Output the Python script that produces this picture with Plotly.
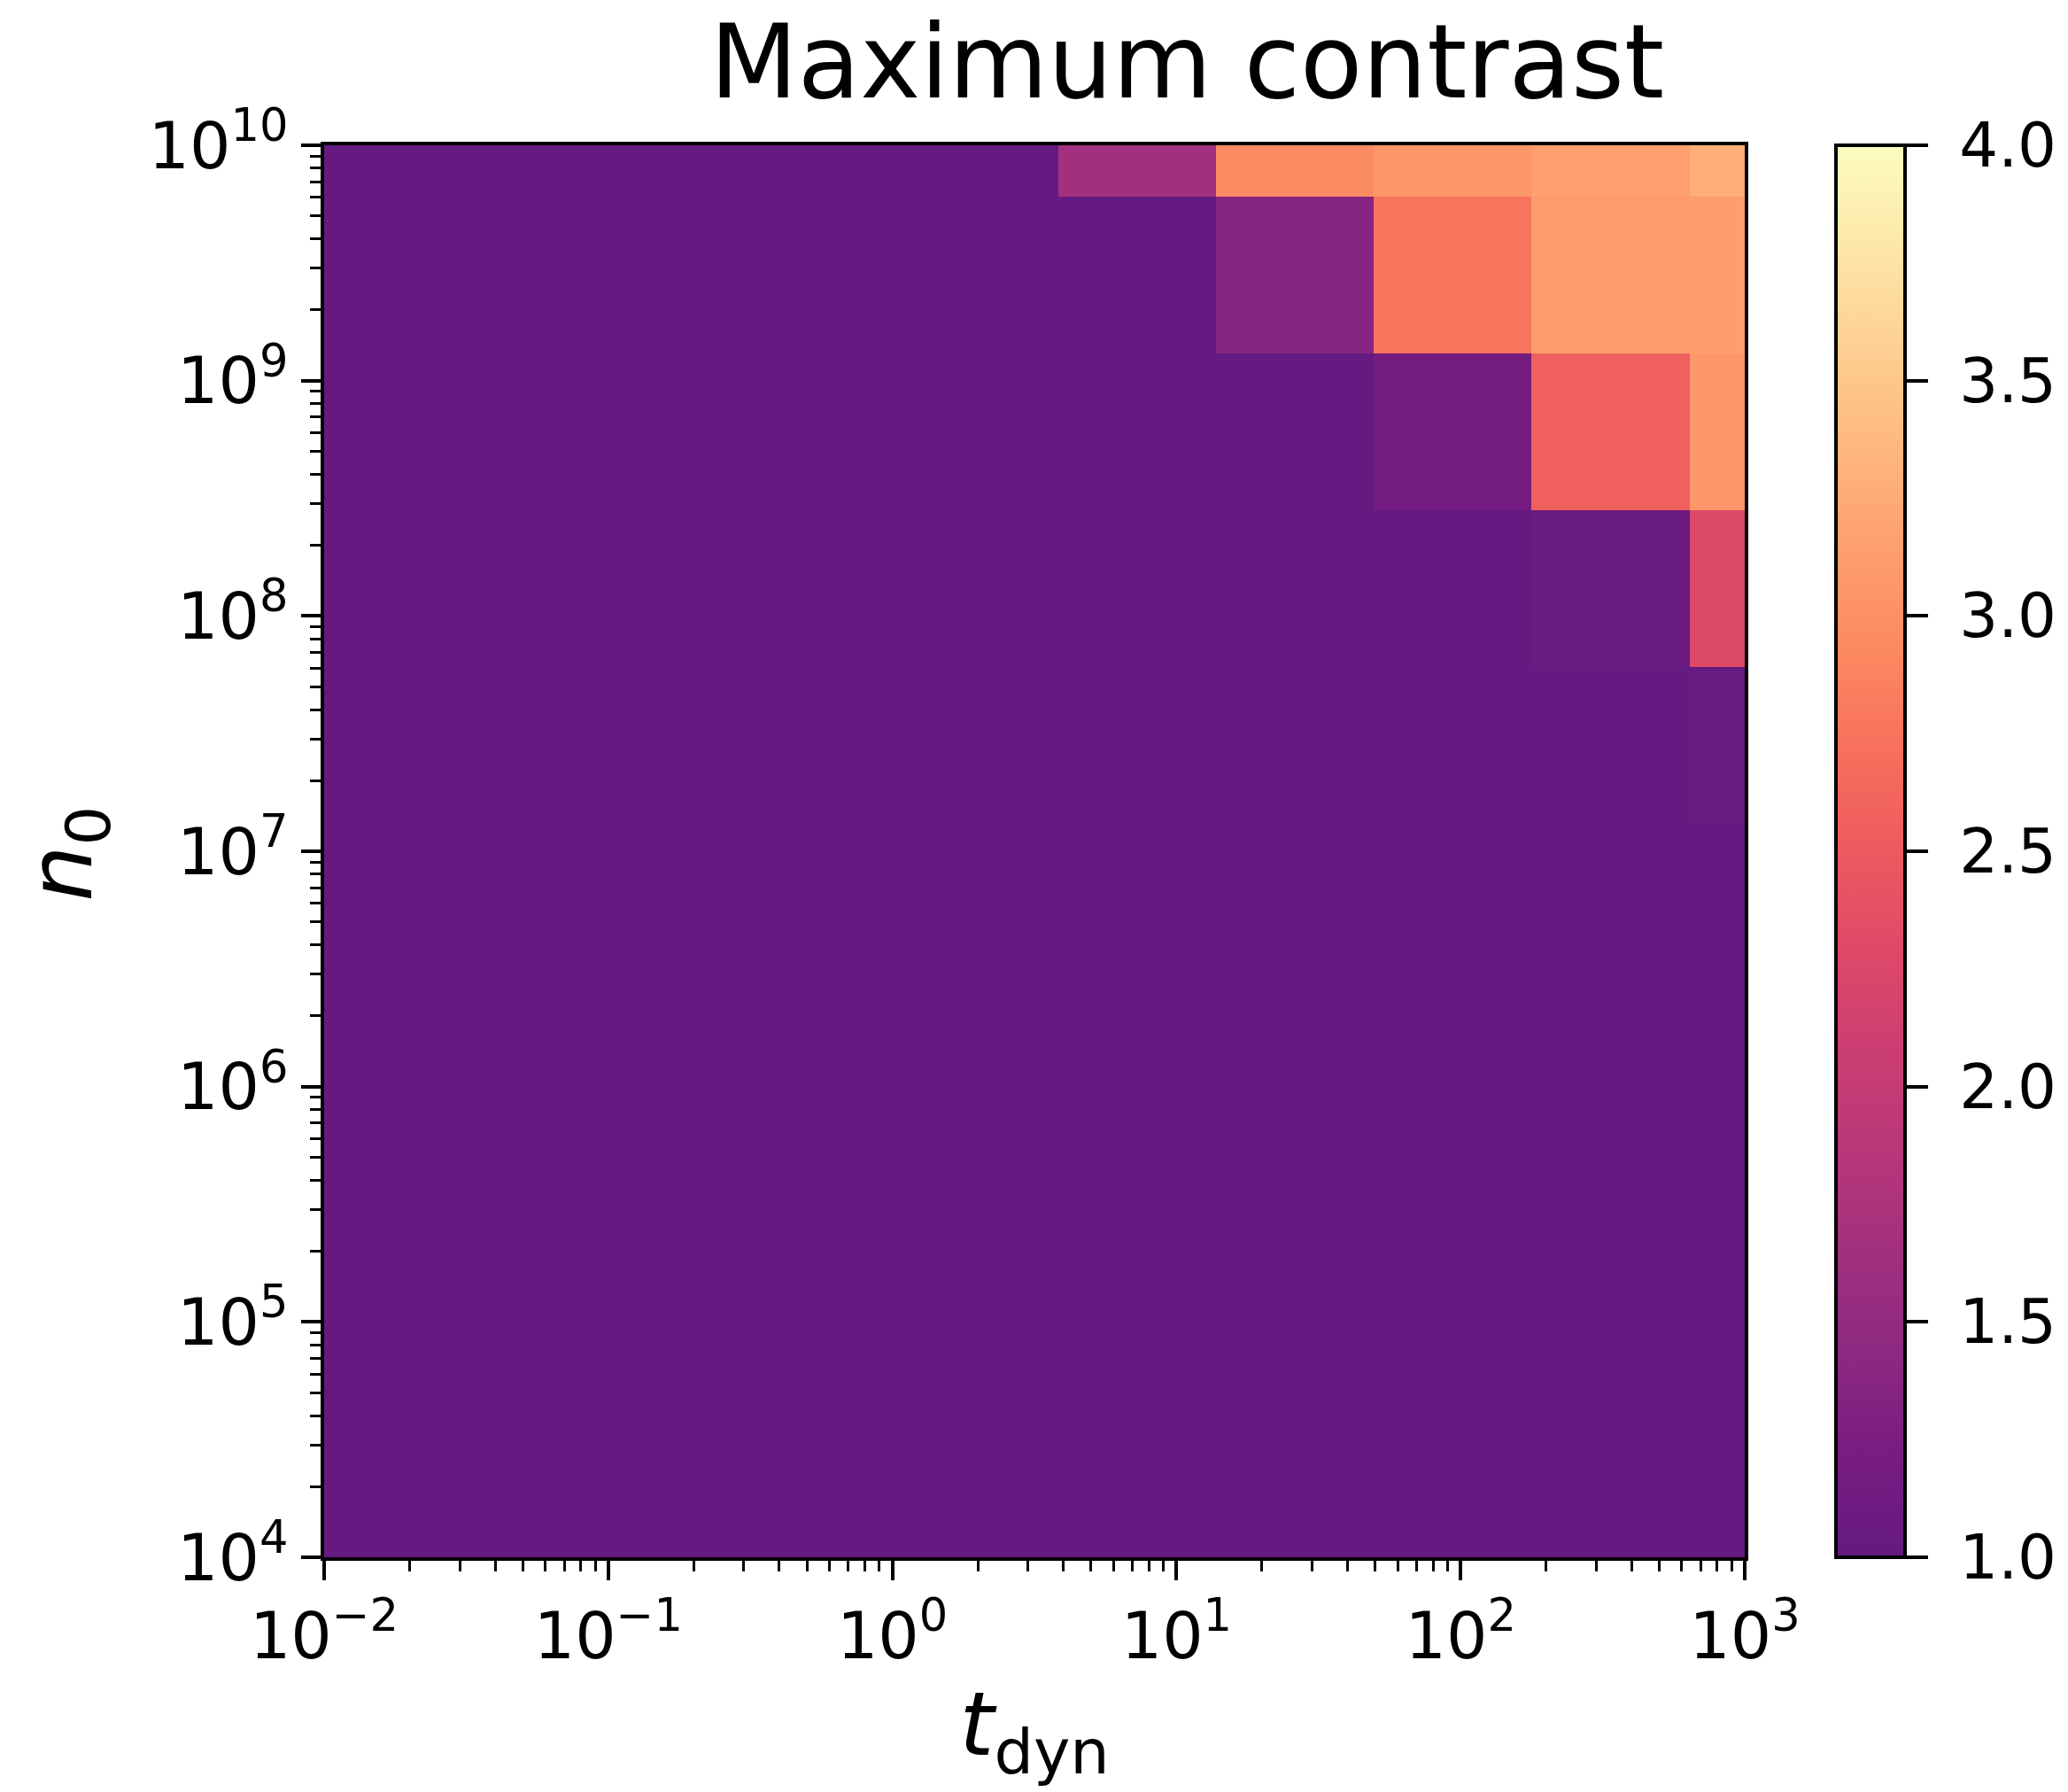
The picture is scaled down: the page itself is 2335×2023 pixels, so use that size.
import plotly.graph_objects as go

# Grid of simulated parameters (cell centres)
t_dyn = [0.01, 0.0359, 0.129, 0.464, 1.67, 5.99, 21.5, 77.4, 278.0, 1000.0]
n_0 = [1e4, 4.64e4, 2.15e5, 1e6, 4.64e6, 2.15e7, 1e8, 4.64e8, 2.15e9, 1e10]

# Maximum contrast, rows follow n_0 (low -> high), columns follow t_dyn
contrast = [
    [1.0, 1.0, 1.0, 1.0, 1.0, 1.0, 1.0, 1.0, 1.0, 1.0],
    [1.0, 1.0, 1.0, 1.0, 1.0, 1.0, 1.0, 1.0, 1.0, 1.0],
    [1.0, 1.0, 1.0, 1.0, 1.0, 1.0, 1.0, 1.0, 1.0, 1.0],
    [1.0, 1.0, 1.0, 1.0, 1.0, 1.0, 1.0, 1.0, 1.0, 1.0],
    [1.0, 1.0, 1.0, 1.0, 1.0, 1.0, 1.0, 1.0, 1.0, 1.0],
    [1.0, 1.0, 1.0, 1.0, 1.0, 1.0, 1.0, 1.0, 1.0, 1.03],
    [1.0, 1.0, 1.0, 1.0, 1.0, 1.0, 1.0, 1.0, 1.06, 2.28],
    [1.0, 1.0, 1.0, 1.0, 1.0, 1.0, 1.0, 1.17, 2.56, 3.06],
    [1.0, 1.0, 1.0, 1.0, 1.0, 1.0, 1.36, 2.76, 3.12, 3.13],
    [1.0, 1.0, 1.0, 1.0, 1.0, 1.64, 2.96, 3.06, 3.14, 3.29],
]

cbar_ticks = [1.0, 1.5, 2.0, 2.5, 3.0, 3.5, 4.0]
x_exps = [-2, -1, 0, 1, 2, 3]
y_exps = [4, 5, 6, 7, 8, 9, 10]


def edges(c):
    # cell edges halfway between neighbouring centres (as pcolormesh 'nearest')
    e = [c[0]]
    for a, b in zip(c[:-1], c[1:]):
        e.append((a + b) / 2.0)
    e.append(c[-1])
    return e


def pow_label(k):
    return "10<sup>" + str(k).replace("-", "\u2212") + "</sup>"


# magma colormap (upper part, as used by the colorbar)
magma_t = [0.30, 0.35, 0.40, 0.45, 0.50, 0.55, 0.60, 0.65, 0.70, 0.75, 0.80, 0.85, 0.90, 0.95, 1.00]
magma_c = ["#641a80", "#781c81", "#8c2981", "#a1307e", "#b73779", "#cb3e72", "#de4968",
           "#ed5a5f", "#f7705c", "#fc8961", "#fe9f6d", "#feb77e", "#fecf92", "#fde7a9", "#fcfdbf"]
cscale = [[(t - magma_t[0]) / (magma_t[-1] - magma_t[0]), c] for t, c in zip(magma_t, magma_c)]

FONT = "DejaVu Sans"
TICKSIZE = 73

fig = go.Figure(
    go.Heatmap(
        x=edges(t_dyn),
        y=edges(n_0),
        z=contrast,
        zmin=1.0,
        zmax=4.0,
        colorscale=cscale,
        zsmooth=False,
        colorbar=dict(
            x=1.0636,
            xanchor="left",
            y=0.5,
            yanchor="middle",
            len=1.0,
            lenmode="fraction",
            thickness=78,
            thicknessmode="pixels",
            outlinewidth=4,
            outlinecolor="black",
            ticks="outside",
            ticklen=24,
            tickwidth=4,
            tickcolor="black",
            tickvals=cbar_ticks,
            ticktext=["\u00a0" + f"{v:.1f}" for v in cbar_ticks],
            tickfont=dict(family=FONT, size=69, color="black"),
            xpad=0,
            ypad=0,
        ),
    )
)

axis_common = dict(
    type="log",
    showgrid=False,
    zeroline=False,
    showline=True,
    mirror=True,
    linewidth=4,
    linecolor="black",
    ticks="outside",
    ticklen=22,
    tickwidth=4,
    tickcolor="black",
    tickfont=dict(family=FONT, size=TICKSIZE, color="black"),
    minor=dict(ticks="outside", ticklen=12, tickwidth=3, tickcolor="black", dtick="D1", showgrid=False),
)

fig.update_layout(
    width=2335,
    height=2023,
    margin=dict(l=366, r=364, t=164, b=265),
    paper_bgcolor="white",
    plot_bgcolor="white",
    font=dict(family=FONT, color="black"),
    title=dict(
        text="Maximum contrast",
        font=dict(family=FONT, size=115, color="black"),
        xref="container",
        x=0.574,
        xanchor="center",
        yref="container",
        y=1 - 70 / 2023,
        yanchor="middle",
    ),
    xaxis=dict(
        axis_common,
        range=[-2, 3],
        tickmode="array",
        tickvals=[10.0 ** k for k in x_exps],
        ticktext=[pow_label(k) for k in x_exps],
        title=dict(text="<i>t</i><sub>dyn</sub>", font=dict(family=FONT, size=100), standoff=24),
    ),
    yaxis=dict(
        axis_common,
        range=[4, 10],
        tickmode="array",
        tickvals=[10.0 ** k for k in y_exps],
        ticktext=[pow_label(k) for k in y_exps],
    ),
    annotations=[
        dict(
            text="<i>n</i><sub>0</sub>",
            font=dict(family=FONT, size=100, color="black"),
            xref="paper",
            yref="paper",
            x=-0.181,
            y=0.498,
            xanchor="center",
            yanchor="middle",
            textangle=-90,
            showarrow=False,
        )
    ],
)

fig.write_html("out.html")
